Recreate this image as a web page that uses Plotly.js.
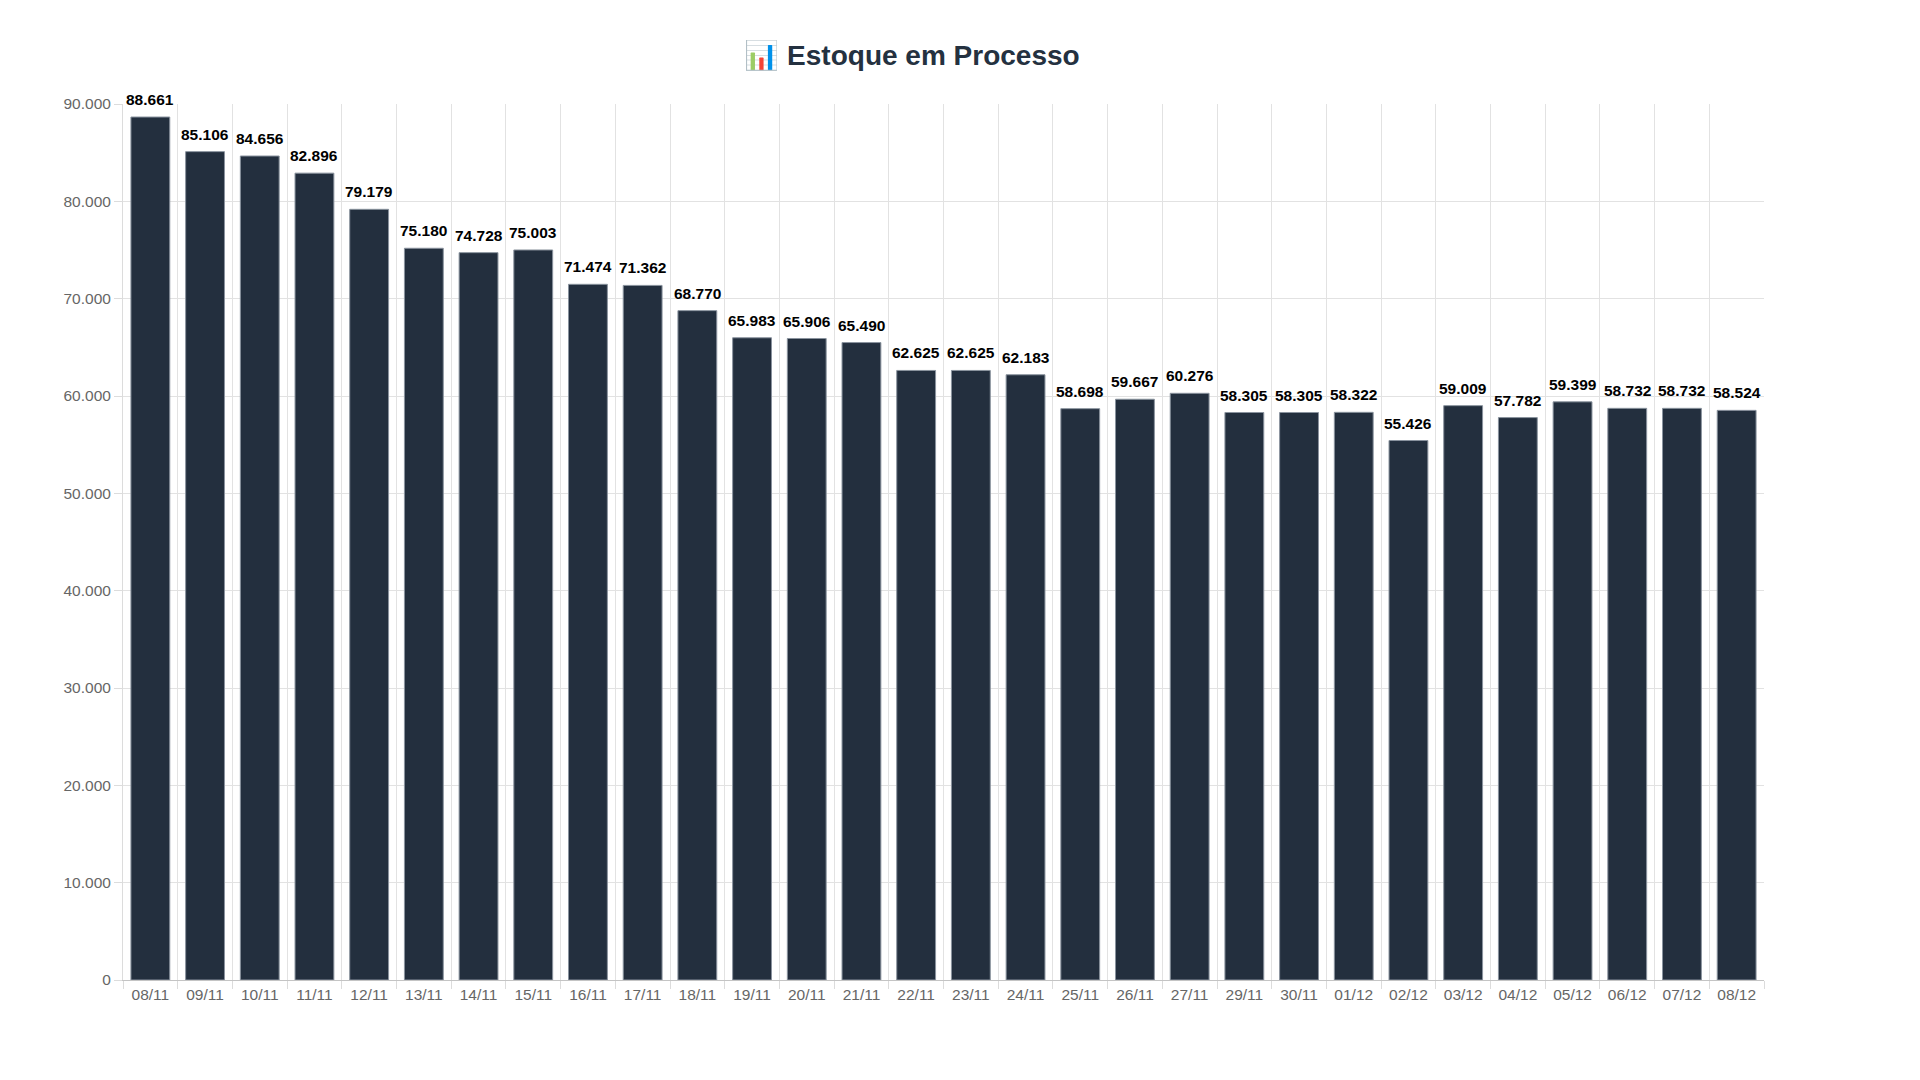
<!DOCTYPE html>
<html>
<head>
<meta charset="utf-8">
<script src="https://cdn.plot.ly/plotly-3.0.1.min.js"></script>
<style>
  html, body { margin: 0; padding: 0; background: #fff; }
  #chart { width: 1920px; height: 1080px; }
</style>
</head>
<body>
<div id="chart"></div>
<script>
// =========================
// DATA
// =========================
const dias = [
    "08/11", "09/11", "10/11", "11/11", "12/11", "13/11", "14/11", "15/11",
    "16/11", "17/11", "18/11", "19/11", "20/11", "21/11", "22/11", "23/11",
    "24/11", "25/11", "26/11", "27/11", "29/11", "30/11", "01/12", "02/12",
    "03/12", "04/12", "05/12", "06/12", "07/12", "08/12"
];

const estoque = [
    88661, 85106, 84656, 82896, 79179, 75180, 74728, 75003,
    71474, 71362, 68770, 65983, 65906, 65490, 62625, 62625,
    62183, 58698, 59667, 60276, 58305, 58305, 58322, 55426,
    59009, 57782, 59399, 58732, 58732, 58524
];

const yTicks = [0, 10000, 20000, 30000, 40000, 50000, 60000, 70000, 80000, 90000];

const FONT = "Liberation Sans, Arial, Helvetica, sans-serif";

// HELPER: pt-BR thousands format
function fmt(v) {
    return v.toString().replace(/\B(?=(\d{3})+(?!\d))/g, ".");
}

// =========================
// CHART
// =========================
const trace = {
    x: dias,
    y: estoque,
    type: "bar",
    marker: {
        color: "#232f3e",
        line: { color: "#8a939e", width: 1 }
    },
    hoverinfo: "x+y"
};

// value labels above each bar
const labels = dias.map((d, i) => ({
    x: d,
    y: estoque[i],
    xref: "x",
    yref: "y",
    text: fmt(estoque[i]),
    showarrow: false,
    yanchor: "bottom",
    yshift: 7,
    font: { family: FONT, size: 15.5, color: "#000", weight: "bold" }
}));

const layout = {
    width: 1920,
    height: 1080,
    separators: ",.",
    paper_bgcolor: "#fff",
    plot_bgcolor: "#fff",
    font: { family: FONT, color: "#666" },
    title: {
        text: "📊 Estoque em Processo",
        x: 0.475,
        xanchor: "center",
        y: 0.949,
        yanchor: "middle",
        font: { size: 28, color: "#243140", weight: "bold", family: FONT }
    },
    margin: { l: 123, r: 156, t: 104, b: 100 },
    bargap: 0.29,
    showlegend: false,
    annotations: labels,
    xaxis: {
        type: "category",
        tickson: "boundaries",
        ticks: "outside",
        ticklen: 8,
        tickcolor: "#dcdcdc",
        showgrid: true,
        gridcolor: "#e2e2e2",
        gridwidth: 1,
        showline: true,
        linecolor: "#c4c4c4",
        tickfont: { size: 15.5, color: "#666" },
        fixedrange: true
    },
    yaxis: {
        range: [0, 90000],
        tickvals: yTicks,
        tickformat: ",.0f",
        ticks: "outside",
        ticklen: 8,
        tickcolor: "#dcdcdc",
        showgrid: true,
        gridcolor: "#e2e2e2",
        gridwidth: 1,
        zeroline: false,
        showline: true,
        linecolor: "#dcdcdc",
        tickfont: { size: 15.5, color: "#666" },
        fixedrange: true
    }
};

Plotly.newPlot("chart", [trace], layout, { displayModeBar: false, staticPlot: true });
</script>
</body>
</html>
